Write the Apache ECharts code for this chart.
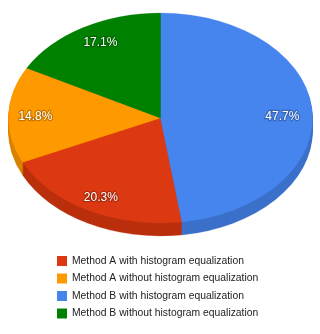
<!DOCTYPE html>
<html><head><meta charset="utf-8">
<style>html,body{margin:0;padding:0;background:#fff}#c{width:320px;height:334px}</style>
<script src="https://cdn.jsdelivr.net/npm/echarts@6/dist/echarts.min.js"></script>
</head><body><div id="c"></div>
<script>
const categories = ['Method A with histogram equalization','Method A without histogram equalization','Method B with histogram equalization','Method B without histogram equalization'];
const values = [20.3, 14.8, 47.7, 17.1];
const labels = ['20.3%','14.8%','47.7%','17.1%'];
const sliceOrder = [2, 0, 1, 3];
const colors = ['#DC3912','#FF9900','#4684EE','#008000'];
const sideColors = ['#BA2F0E','#D98200','#3B70CA','#006C00'];

const total = values.reduce((a,b)=>a+b,0);
const CX=160.5, CY=118, RX=152, RY=105, DEPTH=13;
const labelNudge = [[-1,0],[-2,0],[-1,4],[3,0]];
const startOf = {};
let acc = 0;
sliceOrder.forEach(i=>{ startOf[i]=acc; acc+=values[i]; });

function renderSlice(idx){
  return function(params, api){
    const v = api.value(0);
    const a0 = -Math.PI/2 + startOf[idx]/total*2*Math.PI;
    const a1 = a0 + v/total*2*Math.PI;
    const mid = (a0+a1)/2;
    const children = [];
    for(let d=DEPTH; d>=1; d--){
      children.push({type:'sector', x:CX, y:CY+d, scaleY:RY/RX, z2:100-d,
        shape:{cx:0,cy:0,r0:0,r:RX,startAngle:a0,endAngle:a1,clockwise:true},
        style:{fill:sideColors[idx],stroke:sideColors[idx],lineWidth:0.3}});
    }
    children.push({type:'sector', x:CX, y:CY, scaleY:RY/RX, z2:200,
      shape:{cx:0,cy:0,r0:0,r:RX,startAngle:a0,endAngle:a1,clockwise:true},
      style:{fill:colors[idx],stroke:colors[idx],lineWidth:0.3}});
    children.push({type:'text', z2:300,
      x:CX+Math.cos(mid)*RX*0.81+labelNudge[idx][0], y:CY+1+Math.sin(mid)*RY*0.85+labelNudge[idx][1],
      style:{text:labels[idx],fill:'#fff',font:'12px "Liberation Sans", Arial, sans-serif',
        textAlign:'center',textVerticalAlign:'middle',
        stroke:'rgba(0,0,0,0.22)',lineWidth:2.5,
        shadowColor:'rgba(0,0,0,0.6)',shadowBlur:3}});
    return {type:'group',children};
  };
}

const chart = echarts.init(document.getElementById('c'),null,{renderer:'canvas'});
chart.setOption({
  animation:false,
  backgroundColor:'#fff',
  legend:{
    data:categories, orient:'vertical', left:57, top:256, padding:0,
    itemWidth:10, itemHeight:10, itemGap:7.5, icon:'rect', selectedMode:false,
    textStyle:{color:'#222',fontSize:10.35,fontFamily:'"Liberation Sans", Arial, sans-serif'}
  },
  series:categories.map((name,i)=>({
    type:'custom', name, coordinateSystem:'none', silent:true,
    itemStyle:{color:colors[i]},
    data:[[values[i]]],
    renderItem:renderSlice(i)
  }))
});
</script></body></html>
